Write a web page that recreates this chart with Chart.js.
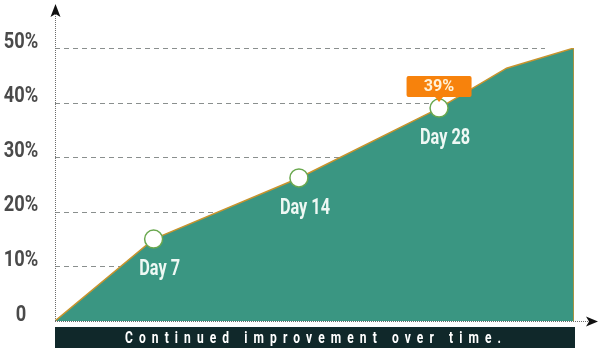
<!DOCTYPE html>
<html>
<head>
<meta charset="utf-8">
<script src="https://cdn.jsdelivr.net/npm/chart.js@4"></script>
<style>
  html, body { margin: 0; padding: 0; background: #fff; }
  #wrap { width: 600px; height: 350px; }
</style>
</head>
<body>
<div id="wrap"><canvas id="progressChart"></canvas></div>
<script>
// progress along the timeline (0-100) and improvement in %
const progress = [0, 19, 47, 74, 87, 100, 100];
const improvement = [0, 15, 26.2, 39, 46.3, 50, 0];
const dayLabels = ['', 'Day 7', 'Day 14', 'Day 28', '', '', ''];
const yTicks = [0, 10, 20, 30, 40, 50];
const calloutIndex = 3;
const caption = 'Continued improvement over time.';

// no condensed font installed, so squeeze Roboto horizontally
function narrowText(ctx, text, x, y, size, squeeze, baseline) {
    ctx.save();
    ctx.font = 'bold ' + size + 'px Roboto';
    ctx.textAlign = 'center';
    ctx.textBaseline = baseline || 'alphabetic';
    ctx.translate(x, y);
    ctx.scale(squeeze, 1);
    ctx.fillText(text, 0, 0);
    ctx.restore();
}

// dashed grid + axis arrows, drawn under the area
const backdrop = {
    id: 'backdrop',
    beforeDatasetsDraw(chart) {
        const ctx = chart.ctx;
        const y = chart.scales.y;
        const area = chart.chartArea;
        ctx.save();
        ctx.strokeStyle = '#8a8f8e';
        ctx.lineWidth = 1;
        ctx.setLineDash([5, 4]);
        yTicks.forEach(v => {
            if (v === 0) return;
            const py = Math.round(y.getPixelForValue(v)) + 0.5;
            ctx.beginPath();
            ctx.moveTo(area.left, py);
            ctx.lineTo(545, py);
            ctx.stroke();
        });
        ctx.restore();

        // y tick labels, sitting on their grid line
        ctx.fillStyle = '#4a4a4a';
        yTicks.forEach(v => {
            narrowText(ctx, v === 0 ? '0' : v + '%', 21, y.getPixelForValue(v) - 0.5, 22, 0.83);
        });
    },
    afterDatasetsDraw(chart) {
        const ctx = chart.ctx;
        const area = chart.chartArea;
        const x = chart.scales.x;
        const meta = chart.getDatasetMeta(0);
        ctx.save();

        // axes (dotted) with arrow heads
        ctx.strokeStyle = '#6b6b6b';
        ctx.lineWidth = 1;
        ctx.setLineDash([1, 1]);
        ctx.beginPath();
        ctx.moveTo(area.left + 0.5, area.bottom);
        ctx.lineTo(area.left + 0.5, 14);
        ctx.stroke();
        ctx.beginPath();
        ctx.moveTo(area.left, area.bottom + 0.5);
        ctx.lineTo(590, area.bottom + 0.5);
        ctx.stroke();
        ctx.setLineDash([]);
        ctx.fillStyle = '#111';
        ctx.beginPath();
        ctx.moveTo(area.left + 0.5, 4);
        ctx.lineTo(area.left - 4.5, 17);
        ctx.lineTo(area.left + 0.5, 14);
        ctx.lineTo(area.left + 5.5, 17);
        ctx.closePath();
        ctx.fill();
        ctx.beginPath();
        ctx.moveTo(598, area.bottom + 0.5);
        ctx.lineTo(586, area.bottom - 4.5);
        ctx.lineTo(589, area.bottom + 0.5);
        ctx.lineTo(586, area.bottom + 5.5);
        ctx.closePath();
        ctx.fill();

        // day labels under the points
        ctx.fillStyle = '#eef8f4';
        meta.data.forEach((pt, i) => {
            if (!dayLabels[i]) return;
            narrowText(ctx, dayLabels[i], pt.x + 6, pt.y + 36, 22, 0.74);
        });

        // orange callout above one point
        const cp = meta.data[calloutIndex];
        const bw = 65, bh = 21;
        const bx = cp.x - bw / 2, by = cp.y - 32;
        ctx.fillStyle = '#f7820c';
        ctx.beginPath();
        ctx.roundRect(bx, by, bw, bh, 2);
        ctx.fill();
        ctx.beginPath();
        ctx.moveTo(cp.x - 4, by + bh);
        ctx.lineTo(cp.x + 4, by + bh);
        ctx.lineTo(cp.x, by + bh + 5);
        ctx.closePath();
        ctx.fill();
        ctx.fillStyle = '#fff1d6';
        narrowText(ctx, Math.round(improvement[calloutIndex]) + '%', cp.x, by + 15, 17, 0.95);

        // caption banner
        const left = area.left;
        const right = x.getPixelForValue(100) + 1;
        ctx.fillStyle = '#10282a';
        ctx.fillRect(left, area.bottom + 6, right - left, 21);
        ctx.fillStyle = '#ffffff';
        ctx.font = 'bold 16px Roboto';
        const squeeze = 0.75;
        const plain = ctx.measureText(caption).width;
        const target = 376 / squeeze;
        ctx.letterSpacing = ((target - plain) / (caption.length - 1)) + 'px';
        ctx.textAlign = 'left';
        ctx.textBaseline = 'alphabetic';
        ctx.translate(125, area.bottom + 22);
        ctx.scale(squeeze, 1);
        ctx.fillText(caption, 0, 0);
        ctx.restore();
    }
};

const ctx = document.getElementById('progressChart').getContext('2d');
new Chart(ctx, {
    type: 'line',
    data: {
        datasets: [{
            data: progress.map((p, i) => ({ x: p, y: improvement[i] })),
            fill: 'origin',
            backgroundColor: '#3a9682',
            borderColor: '#c8942e',
            borderWidth: 1.5,
            tension: 0,
            pointRadius: dayLabels.map(l => l ? 9 : 0),
            pointHoverRadius: dayLabels.map(l => l ? 9 : 0),
            pointBackgroundColor: '#ffffff',
            pointBorderColor: '#6aa84f',
            pointBorderWidth: 1.5
        }]
    },
    options: {
        responsive: true,
        maintainAspectRatio: false,
        animation: false,
        events: [],
        layout: { padding: { top: 48, right: 26, bottom: 29, left: 0 } },
        plugins: { legend: { display: false }, tooltip: { enabled: false } },
        scales: {
            x: { type: 'linear', min: 0, max: 100, display: false },
            y: {
                min: 0,
                max: 50,
                afterFit: (scale) => { scale.width = 55; },
                grid: { display: false, drawTicks: false },
                border: { display: false },
                ticks: { display: false, stepSize: 10 }
            }
        }
    },
    plugins: [backdrop]
});
</script>
</body>
</html>
